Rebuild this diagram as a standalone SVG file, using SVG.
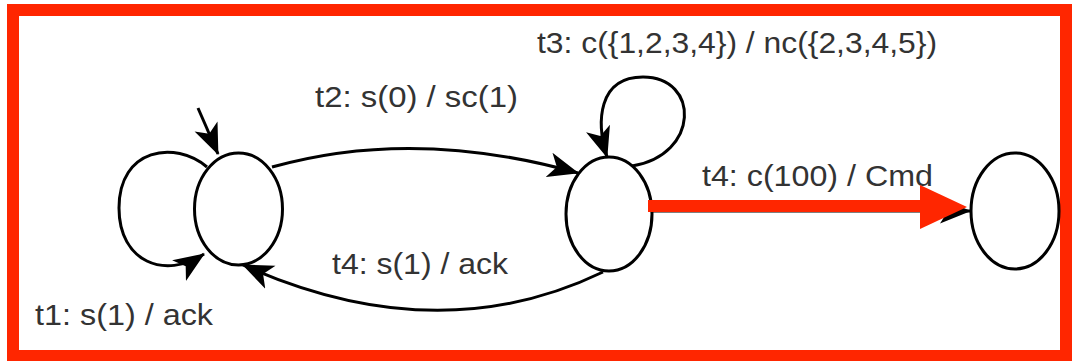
<svg xmlns="http://www.w3.org/2000/svg" width="1072" height="361" viewBox="0 0 1072 361">
<style>
.node{fill:#fff;stroke:#000;stroke-width:3}
.edge{fill:none;stroke:#000;stroke-width:3}
.lbl{font-family:"Liberation Sans",Arial,sans-serif;font-size:30px;fill:#333}
</style>
<defs>
<marker id="ah" markerUnits="strokeWidth" markerWidth="11" markerHeight="9" viewBox="0 0 33 27" refX="30" refY="13.5" orient="auto">
<path d="M0,1 L31,13.5 L0,26 L8,13.5 z" fill="#000"/>
</marker>
</defs>
<rect x="13" y="10" width="1053" height="346" fill="#fff" stroke="#ff2600" stroke-width="12"/>
<g id="connectors">
<path id="init" class="edge" d="M198,108 L218,154" marker-end="url(#ah)"/>
<path id="t1" class="edge" d="M207,167 C175,140 119,148 119,208 C119,262 165,280 204,254" marker-end="url(#ah)"/>
<path id="t2" class="edge" d="M272,167 Q414,127 578,173" marker-end="url(#ah)"/>
<path id="t3" class="edge" d="M632,166 C700,155 700,77 643,77 C598,77 596,122 607,157" marker-end="url(#ah)"/>
<path id="t4b" class="edge" d="M603,272 Q437,352 243,265" marker-end="url(#ah)"/>
<path id="t4f" class="edge" d="M652,211 L970,211" marker-end="url(#ah)"/>
</g>
<g id="n1"><ellipse class="node" cx="238.5" cy="209" rx="44" ry="56"/></g>
<g id="n2"><ellipse class="node" cx="609" cy="214" rx="43" ry="57"/></g>
<g id="n3"><ellipse class="node" cx="1015" cy="211" rx="44" ry="58"/></g>
<g id="labels">
<text class="lbl" x="315" y="107" textLength="203" lengthAdjust="spacingAndGlyphs">t2: s(0) / sc(1)</text>
<text class="lbl" x="537" y="53" textLength="400" lengthAdjust="spacingAndGlyphs">t3: c({1,2,3,4}) / nc({2,3,4,5})</text>
<text class="lbl" x="702" y="186" textLength="231" lengthAdjust="spacingAndGlyphs">t4: c(100) / Cmd</text>
<text class="lbl" x="332" y="274" textLength="176" lengthAdjust="spacingAndGlyphs">t4: s(1) / ack</text>
<text class="lbl" x="35" y="325" textLength="178" lengthAdjust="spacingAndGlyphs">t1: s(1) / ack</text>
</g>
<g id="highlight">
<line x1="648" y1="206" x2="925" y2="206" stroke="#ff2600" stroke-width="12"/>
<polygon points="920,185 967,207 920,229" fill="#ff2600"/>
</g>
</svg>
